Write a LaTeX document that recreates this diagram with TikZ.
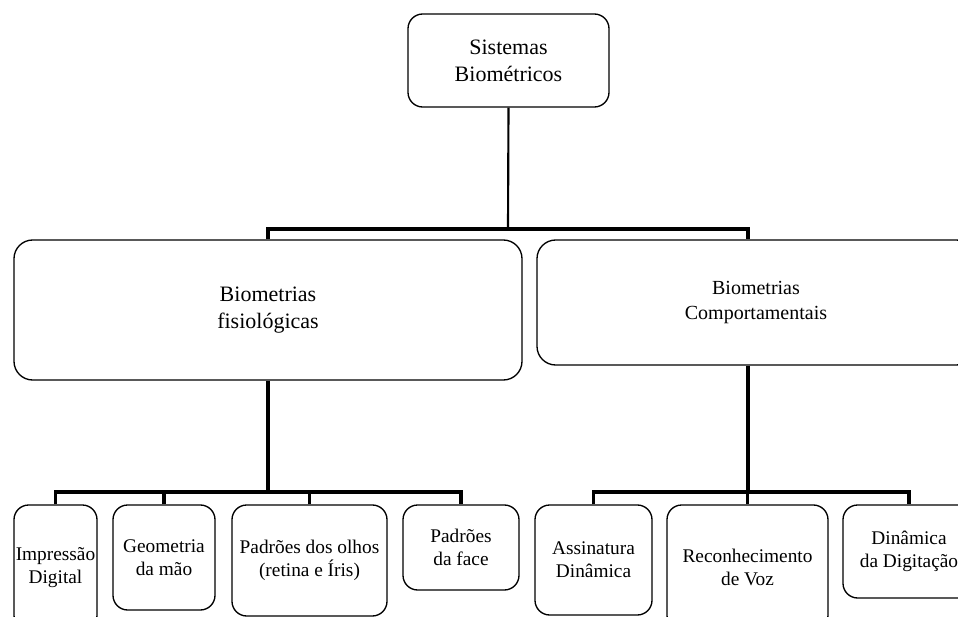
\documentclass[tikz,border=0pt]{standalone}
\usepackage{fontspec}
\setmainfont{Liberation Serif}
\tikzset{
  box/.style={draw, rounded corners=11pt, line width=1pt, align=center, inner sep=0pt},
  bar/.style={line width=2.6pt},
  big/.style={font=\fontsize{16.5}{20}\selectfont},
  small/.style={font=\fontsize{14.5}{17.5}\selectfont},
}
\begin{document}
\begin{tikzpicture}[x=0.75pt, y=-0.75pt]
  \useasboundingbox (0,0) rectangle (958,617);
  \clip (0,0) rectangle (958,617);
  % root
  \node[box, big, minimum width=150.75pt, minimum height=69.75pt] (sis) at (508.5,60.5) {Sistemas\\Biométricos};
  % two families
  \node[box, big, rounded corners=14pt, minimum width=381pt, minimum height=105pt] (fisio) at (268,310) {Biometrias\\fisiológicas};
  \node[box, rounded corners=14pt, font=\fontsize{15}{19}\selectfont, minimum width=328.5pt, minimum height=93.75pt] (comp) at (756,302.5) {Biometrias\\Comportamentais};
  % physiological leaves
  \node[box, small, minimum width=62.25pt, minimum height=93.75pt] (imp) at (55.5,567.5) {Impressão\\Digital};
  \node[box, small, minimum width=76.5pt, minimum height=78.75pt] (geo) at (164,557.5) {Geometria\\da mão};
  \node[box, small, minimum width=116.25pt, minimum height=83.25pt] (olhos) at (309.5,560.5) {Padrões dos olhos\\(retina e Íris)};
  \node[box, small, minimum width=87pt, minimum height=63.75pt] (face) at (461,547.5) {Padrões\\da face};
  % behavioural leaves
  \node[box, small, minimum width=87.75pt, minimum height=82.5pt] (ass) at (593.5,560) {Assinatura\\Dinâmica};
  \node[box, small, minimum width=120.75pt, minimum height=93.75pt] (voz) at (747.5,567.5) {Reconhecimento\\de Voz};
  \node[box, small, minimum width=99pt, minimum height=69.75pt] (dig) at (909,551.5) {Dinâmica\\da Digitação};
  % junction points
  \coordinate (hub) at (508,229);
  \coordinate (hubl) at (268,229);
  \coordinate (hubr) at (748,229);
  \coordinate (fl) at (268,492);
  \coordinate (cr) at (748,492);
  % root to families
  \draw[line width=1.6pt] (sis.south) -- (hub);
  \draw[bar] (fisio.north) -- (hubl) -- (hubr) -- (hubr |- comp.north);
  % families to leaves
  \draw[bar] (fisio.south) -- (fl);
  \draw[bar] (imp.north) |- (face.north |- fl) -- (face.north);
  \draw[bar] (geo.north) -- (geo.north |- fl);
  \draw[bar] (olhos.north) -- (olhos.north |- fl);
  \draw[bar] (cr |- comp.south) -- (cr);
  \draw[bar] (ass.north) |- (dig.north |- cr) -- (dig.north);
  \draw[bar] (voz.north) -- (voz.north |- cr);
\end{tikzpicture}
\end{document}
